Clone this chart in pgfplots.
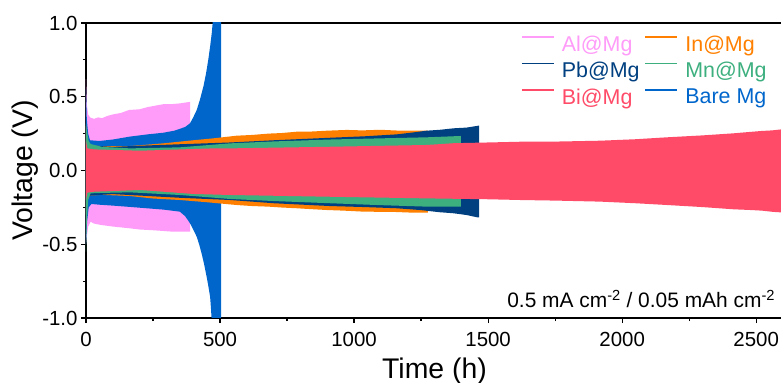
\documentclass[border=0pt]{standalone}
\usepackage{fontspec}
\setmainfont{Liberation Sans}
\usepackage{pgfplots}
\pgfplotsset{compat=1.18}

\definecolor{cAl}{RGB}{255,155,248}
\definecolor{cIn}{RGB}{255,128,0}
\definecolor{cPb}{RGB}{0,64,128}
\definecolor{cMn}{RGB}{61,175,127}
\definecolor{cBi}{RGB}{255,75,104}
\definecolor{cBare}{RGB}{0,102,204}

\begin{document}
\begin{tikzpicture}
\begin{axis}[
  scale only axis, width=697bp, height=295bp,
  xmin=0, xmax=2600, ymin=-1, ymax=1,
  axis line style={line width=1.5bp},
  xtick={0,500,...,2500}, minor x tick num=1,
  ytick={-1,-0.5,0,0.5,1}, minor y tick num=1,
  yticklabels={-1.0,-0.5,0.0,0.5,1.0},
  /pgf/number format/assume math mode=true,
  /pgf/number format/1000 sep={},
  tick align=outside, xtick pos=bottom, ytick pos=left,
  major tick length=5bp, minor tick length=3bp,
  every tick/.style={line width=1.2bp, black},
  ticklabel style={font=\fontsize{20.5}{21}\selectfont},
  x tick label style={yshift=-6bp},
  xlabel={Time (h)}, ylabel={Voltage (V)},
  label style={font=\fontsize{28.5}{29}\selectfont},
  x label style={at={(axis description cs:0.5,-0.18)}, anchor=center},
  y label style={at={(axis description cs:-0.087,0.5)}, anchor=center},
  legend columns=2,
  legend image code/.code={\draw[#1, line width=1.8bp] (0bp,7bp) -- (32bp,7bp);},
  legend style={draw=none, fill=none, inner sep=0pt, outer sep=0pt,
    at={(axis cs:1623,0.915)}, anchor=north west,
    font=\fontsize{21.5}{22}\selectfont,
    nodes={inner sep=0pt},
    row sep=9.5bp, column sep=7bp,
    /tikz/column 2/.style={column sep=5bp}},
  legend cell align=left,
]

% Al@Mg
\addplot[fill=cAl, draw=none, forget plot] coordinates {
 (0,0.62) (3,0.45) (8,0.38) (15,0.36) (30,0.35) (45,0.36) (60,0.355) (80,0.37)
 (100,0.38) (130,0.39) (160,0.41) (200,0.415) (230,0.43) (260,0.44) (290,0.45)
 (320,0.45) (350,0.455) (388,0.465)
 (388,-0.415) (325,-0.415) (288,-0.41) (250,-0.405) (200,-0.40) (164,-0.392)
 (100,-0.38) (55,-0.369) (30,-0.36) (17,-0.347) (8,-0.38) (3,-0.45) (0,-0.5)};

% Bare Mg
\addplot[fill=cBare, draw=none, forget plot] coordinates {
 (0,0.55) (3,0.35) (8,0.25) (15,0.205) (50,0.2) (100,0.21) (164,0.23) (230,0.245)
 (288,0.256) (330,0.27) (370,0.295) (388,0.32) (400,0.36) (413,0.41) (425,0.48)
 (438,0.57) (448,0.66) (456,0.75) (463,0.84) (469,0.93) (475,1.05) (504,1.05)
 (504,-1.05) (470,-1.05) (466,-0.93) (463,-0.856) (456,-0.78) (450,-0.72)
 (440,-0.63) (431,-0.561) (422,-0.5) (413,-0.449) (400,-0.4) (388,-0.358)
 (370,-0.31) (350,-0.279) (288,-0.265) (226,-0.256) (150,-0.245) (100,-0.238)
 (50,-0.232) (20,-0.227) (10,-0.25) (4,-0.35) (0,-0.5)};

% In@Mg
\addplot[fill=cIn, draw=none, forget plot] coordinates {
 (0,0.3) (5,0.2) (15,0.17) (60,0.165) (164,0.166) (288,0.184) (400,0.205)
 (475,0.218) (562,0.236) (620,0.241) (680,0.25) (730,0.254) (786,0.263)
 (840,0.264) (900,0.27) (973,0.275) (1030,0.272) (1097,0.276) (1160,0.271)
 (1221,0.27) (1275,0.27)
 (1275,-0.285) (1221,-0.286) (1150,-0.281) (1035,-0.279) (960,-0.272)
 (900,-0.268) (840,-0.262) (786,-0.256) (730,-0.251) (680,-0.245)
 (620,-0.241) (562,-0.234) (450,-0.215) (350,-0.2) (250,-0.19) (164,-0.173)
 (60,-0.165) (15,-0.17) (5,-0.2) (0,-0.3)};

% Pb@Mg
\addplot[fill=cPb, draw=none, forget plot] coordinates {
 (0,0.3) (5,0.2) (15,0.17) (100,0.16) (200,0.168) (350,0.178) (537,0.19)
 (700,0.205) (910,0.222) (1040,0.232) (1159,0.245) (1220,0.258) (1271,0.27)
 (1320,0.276) (1371,0.286) (1420,0.291) (1458,0.302) (1466,0.305)
 (1466,-0.318) (1458,-0.317) (1420,-0.302) (1371,-0.29) (1320,-0.283)
 (1246,-0.268) (1159,-0.256) (1040,-0.248) (910,-0.241) (700,-0.222)
 (537,-0.2) (350,-0.185) (200,-0.17) (100,-0.16) (15,-0.17) (5,-0.2) (0,-0.3)};

% Mn@Mg
\addplot[fill=cMn, draw=none, forget plot] coordinates {
 (0,0.32) (3,0.27) (10,0.2) (17,0.18) (60,0.16) (164,0.15) (350,0.157)
 (537,0.184) (700,0.197) (910,0.21) (1100,0.218) (1271,0.225) (1398,0.234)
 (1398,-0.245) (1271,-0.245) (1100,-0.235) (910,-0.222) (700,-0.207)
 (537,-0.193) (350,-0.166) (164,-0.148) (60,-0.152) (17,-0.155) (8,-0.2)
 (3,-0.35) (0,-0.55)};

% Bi@Mg
\addplot[fill=cBi, draw=none, forget plot] coordinates {
 (0,0.2) (5,0.15) (30,0.143) (201,0.134) (475,0.15) (537,0.15) (910,0.161)
 (1271,0.173) (1371,0.185) (1500,0.19) (1619,0.195) (1750,0.196) (1918,0.202)
 (2050,0.212) (2167,0.225) (2300,0.238) (2415,0.252) (2480,0.262)
 (2520,0.268) (2560,0.272) (2600,0.28)
 (2600,-0.285) (2560,-0.28) (2520,-0.272) (2480,-0.268) (2415,-0.263)
 (2300,-0.248) (2167,-0.234) (2050,-0.222) (1918,-0.211) (1750,-0.204)
 (1619,-0.2) (1500,-0.195) (1271,-0.189) (910,-0.178) (537,-0.166)
 (400,-0.159) (201,-0.132) (30,-0.144) (5,-0.15) (0,-0.2)};

\addlegendimage{cAl}\addlegendentry{\textcolor{cAl}{Al@Mg}}
\addlegendimage{cIn}\addlegendentry{\textcolor{cIn}{In@Mg}}
\addlegendimage{cPb}\addlegendentry{\textcolor{cPb}{Pb@Mg}}
\addlegendimage{cMn}\addlegendentry{\textcolor{cMn}{Mn@Mg}}
\addlegendimage{cBi}\addlegendentry{\textcolor{cBi}{Bi@Mg}}
\addlegendimage{cBare}\addlegendentry{\textcolor{cBare}{Bare Mg}}

\node[anchor=base east, inner sep=0pt, font=\fontsize{21}{21}\selectfont]
  at (axis cs:2571,-0.932) {0.5 mA cm\textsuperscript{-2} / 0.05 mAh cm\textsuperscript{-2}};
\end{axis}
\pgfresetboundingbox
\path[use as bounding box] (-86bp,-65bp) rectangle (695bp,318bp);
\end{tikzpicture}
\end{document}
